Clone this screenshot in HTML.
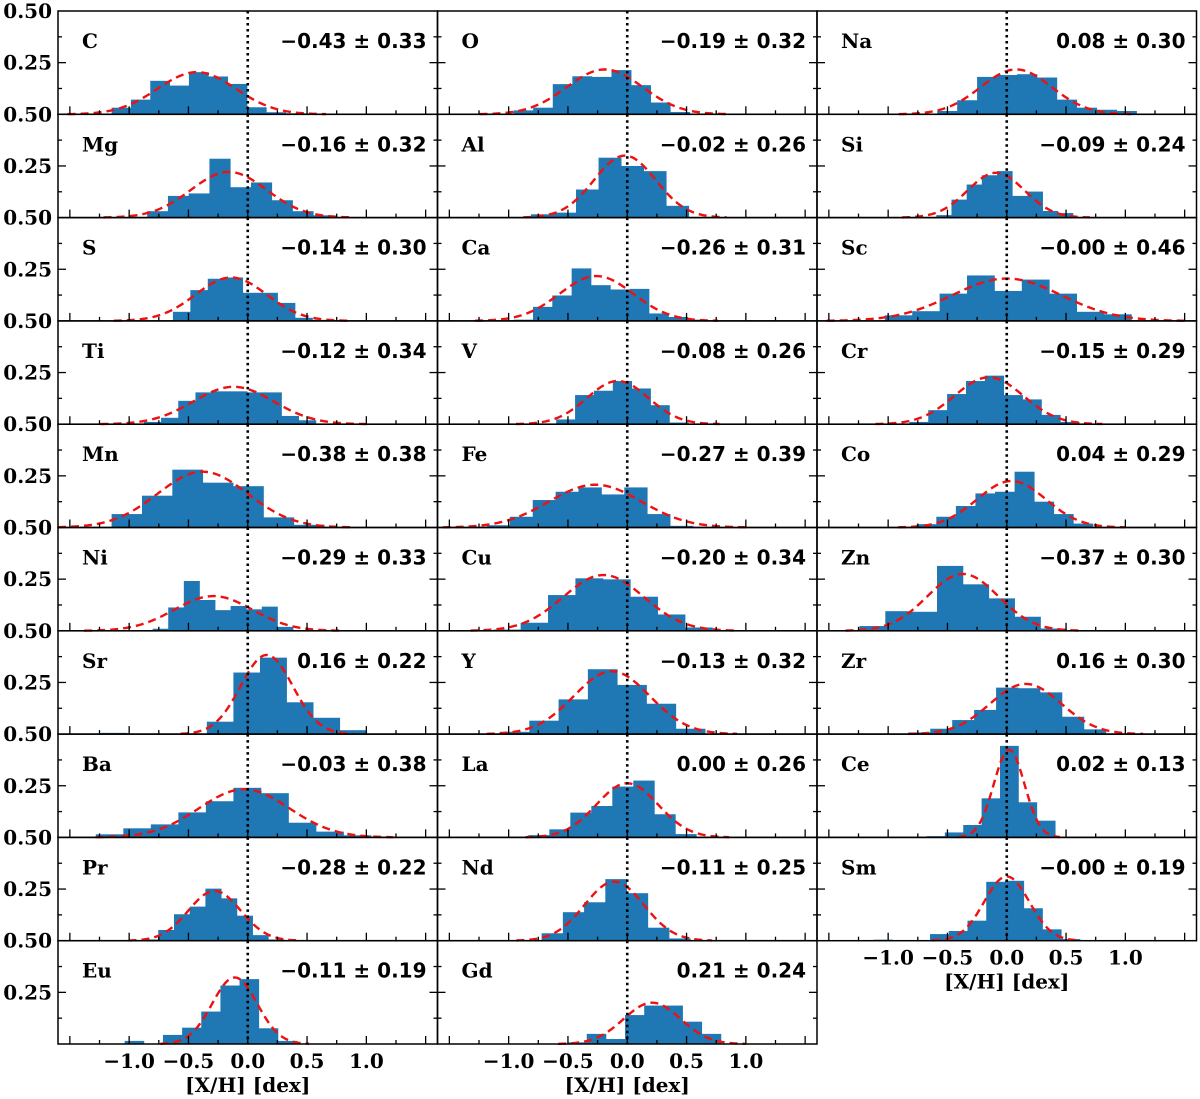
<!DOCTYPE html>
<html><head><meta charset="utf-8"><style>
html,body{margin:0;padding:0;background:#fff;}
svg{display:block;}
</style></head><body>
<svg id="fig" width="1200" height="1099" viewBox="0 0 1200 1099" xmlns="http://www.w3.org/2000/svg"></svg>
<script>
const elements = ["C","O","Na","Mg","Al","Si","S","Ca","Sc","Ti","V","Cr","Mn","Fe","Co","Ni","Cu","Zn","Sr","Y","Zr","Ba","La","Ce","Pr","Nd","Sm","Eu","Gd"];
const labelTexts = ["−0.43 ± 0.33","−0.19 ± 0.32","0.08 ± 0.30","−0.16 ± 0.32","−0.02 ± 0.26","−0.09 ± 0.24","−0.14 ± 0.30","−0.26 ± 0.31","−0.00 ± 0.46","−0.12 ± 0.34","−0.08 ± 0.26","−0.15 ± 0.29","−0.38 ± 0.38","−0.27 ± 0.39","0.04 ± 0.29","−0.29 ± 0.33","−0.20 ± 0.34","−0.37 ± 0.30","0.16 ± 0.22","−0.13 ± 0.32","0.16 ± 0.30","−0.03 ± 0.38","0.00 ± 0.26","0.02 ± 0.13","−0.28 ± 0.22","−0.11 ± 0.25","−0.00 ± 0.19","−0.11 ± 0.19","0.21 ± 0.24"];
const means = [-0.43,-0.19,0.08,-0.16,-0.02,-0.09,-0.14,-0.26,0.00,-0.12,-0.08,-0.15,-0.38,-0.27,0.04,-0.29,-0.20,-0.37,0.16,-0.13,0.16,-0.03,0.00,0.02,-0.28,-0.11,0.00,-0.11,0.21];
const sigmas = [0.33,0.32,0.30,0.32,0.26,0.24,0.30,0.31,0.46,0.34,0.26,0.29,0.38,0.39,0.29,0.33,0.34,0.30,0.22,0.32,0.30,0.38,0.26,0.13,0.22,0.25,0.19,0.19,0.24];
const amplitudes = [0.204,0.217,0.217,0.221,0.30,0.217,0.21,0.217,0.205,0.181,0.209,0.227,0.27,0.207,0.225,0.168,0.27,0.275,0.383,0.304,0.243,0.233,0.262,0.424,0.241,0.286,0.311,0.322,0.20];
const binStarts = [-1.148,-0.958,-0.586,-0.848,-0.812,-0.594,-0.631,-0.958,-1.028,-0.876,-0.599,-0.821,-1.148,-1.183,-0.759,-0.802,-1.13,-1.242,-1.241,-1.073,-0.83,-1.281,-0.834,-0.677,-0.887,-0.722,-1.121,-1.038,-0.503];
const binWidths = [0.163,0.165,0.168,0.175,0.19,0.128,0.147,0.163,0.231,0.145,0.159,0.159,0.256,0.193,0.165,0.1315,0.231,0.218,0.224,0.247,0.185,0.232,0.177,0.155,0.1325,0.179,0.158,0.1615,0.1615];
const counts = [
[0.032,0.071,0.162,0.139,0.204,0.183,0.147,0.034,0.01,0.005],
[0.019,0.032,0.146,0.184,0.181,0.214,0.141,0.057,0.011],
[0.016,0.068,0.181,0.19,0.194,0.178,0.071,0.032,0.022,0.016],
[0.031,0.105,0.117,0.285,0.147,0.17,0.084,0.031,0.011],
[0.016,0.024,0.136,0.29,0.25,0.225,0.057],
[0.012,0.087,0.16,0.205,0.225,0.105,0.126,0.032,0.022],
[0.044,0.149,0.204,0.21,0.136,0.136,0.087,0.015,0.005],
[0.006,0.068,0.123,0.254,0.173,0.152,0.155,0.036,0.019,0.006],
[0.027,0.047,0.132,0.22,0.145,0.2,0.132,0.044,0.032],
[0.011,0.031,0.113,0.154,0.159,0.159,0.154,0.154,0.04,0.019],
[0.023,0.141,0.162,0.209,0.173,0.092,0.008],
[0.011,0.068,0.146,0.209,0.235,0.141,0.12,0.045,0.011],
[0.065,0.154,0.28,0.217,0.2,0.049,0.013],
[0.011,0.052,0.133,0.173,0.194,0.16,0.194,0.065,0.008],
[0.016,0.052,0.104,0.165,0.173,0.27,0.125,0.065,0.019],
[0.01,0.113,0.241,0.149,0.1,0.12,0.104,0.117,0.019],
[0.006,0.039,0.173,0.254,0.249,0.165,0.079,0.016],
[0.023,0.095,0.092,0.314,0.225,0.157,0.068,0.011],
[0.006,0,0,0.003,0.06,0.298,0.37,0.154,0.079,0.019],
[0.011,0.065,0.168,0.314,0.238,0.147,0.026],
[0.008,0.026,0.068,0.117,0.225,0.222,0.202,0.084,0.023],
[0.015,0.044,0.063,0.121,0.175,0.24,0.214,0.071,0.028,0.01],
[0.011,0.039,0.12,0.152,0.246,0.275,0.112,0.016],
[0.006,0.024,0.06,0.189,0.443,0.17,0.081],
[0.006,0.052,0.128,0.165,0.252,0.205,0.121,0.027,0.006],
[0.036,0.138,0.186,0.298,0.23,0.063,0.011],
[0.005,0,0,0.032,0.047,0.097,0.285,0.29,0.157,0.055,0.008],
[0.015,0,0.044,0.079,0.157,0.283,0.314,0.076,0.015],
[0.008,0.049,0.024,0.14,0.186,0.186,0.108,0.049]
];
const xTickValues = [-1.0,-0.5,0.0,0.5,1.0];
const xTickLabels = ["−1.0","−0.5","0.0","0.5","1.0"];
const yTickValues = [0.25,0.5];
const yTickLabels = ["0.25","0.50"];

const NS = "http://www.w3.org/2000/svg";
const svg = document.getElementById("fig");
const colLeft = [58, 437.5, 817];
const PW = 379.5, PH = 103.3, TOP = 11;
const XMIN = -1.6, XMAX = 1.6, YMAX = 0.5;
function mk(tag, attrs, parent) {
  const e = document.createElementNS(NS, tag);
  for (const k in attrs) e.setAttribute(k, attrs[k]);
  (parent || svg).appendChild(e);
  return e;
}
const serif = "'DejaVu Serif','Liberation Serif',serif";
const sans = "'DejaVu Sans','Liberation Sans',sans-serif";

elements.forEach((name, i) => {
  const row = Math.floor(i / 3), col = i % 3;
  const x0 = colLeft[col], y0 = TOP + row * PH;
  const sx = v => x0 + (v - XMIN) / (XMAX - XMIN) * PW;
  const sy = v => y0 + PH - v / YMAX * PH;
  const g = mk("g", {});
  
  
  counts[i].forEach((h, b) => {
    if (h <= 0) return;
    const a = binStarts[i] + b * binWidths[i];
    const r = mk("rect", {x: sx(a), y: sy(h), width: sx(a + binWidths[i]) - sx(a) + 0.4, height: sy(0) - sy(h), fill: "#1f77b4"}, g);
    
    
  });
  const mu = means[i], s = sigmas[i], A = amplitudes[i];
  let d = "";
  const lo = Math.max(XMIN, mu - 3.3 * s), hi = Math.min(XMAX, mu + 3.3 * s);
  for (let k = 0; k <= 200; k++) {
    const xv = lo + (hi - lo) * k / 200;
    const yv = A * Math.exp(-((xv - mu) ** 2) / (2 * s * s));
    d += (k ? "L" : "M") + sx(xv).toFixed(2) + "," + sy(yv).toFixed(2);
  }
  const c = mk("path", {d: d, fill: "none", stroke: "#ee1111", "stroke-width": 2.4, "stroke-dasharray": "8,5"}, g);
  
  
  const z = mk("line", {x1: sx(0), x2: sx(0), y1: y0, y2: y0 + PH, stroke: "#000", "stroke-width": 2.6, "stroke-dasharray": "2.5,3.5"}, g);
  
  
  for (let t = -6; t <= 6; t++) {
    const v = t * 0.25, major = (t % 2 === 0);
    mk("line", {x1: sx(v), x2: sx(v), y1: y0 + PH, y2: y0 + PH - (major ? 8 : 4), stroke: "#000", "stroke-width": 1.3}, g);
  }
  for (let t = 1; t <= 3; t++) {
    const v = t * 0.125, major = (t % 2 === 0);
    const L = major ? 8 : 4;
    mk("line", {x1: x0, x2: x0 + L, y1: sy(v), y2: sy(v), stroke: "#000", "stroke-width": 1.3}, g);
    mk("line", {x1: x0 + PW, x2: x0 + PW - L, y1: sy(v), y2: sy(v), stroke: "#000", "stroke-width": 1.3}, g);
  }
  const f = mk("rect", {x: x0, y: y0, width: PW, height: PH, fill: "none", stroke: "#000", "stroke-width": 1.5}, g);
  
  
  const t1 = mk("text", {x: x0 + 24, y: y0 + 37, "font-family": serif, "font-weight": "bold", "font-size": 20, fill: "#000"}, g);
  t1.textContent = name;
  
  
  const t2 = mk("text", {x: x0 + PW - 11, y: y0 + 37, "text-anchor": "end", "font-family": sans, "font-weight": "bold", "font-size": 20, fill: "#000"}, g);
  t2.textContent = labelTexts[i];
  
  
  if (col === 0) {
    yTickValues.forEach((v, k) => {
      const yl = mk("text", {x: 52, y: sy(v) + 7, "text-anchor": "end", "font-family": serif, "font-weight": "bold", "font-size": 20, fill: "#000"}, g);
      yl.textContent = yTickLabels[k];
      
      
    });
  }
  const isBottom = (col < 2 && row === 9) || (col === 2 && row === 8);
  if (isBottom) {
    xTickValues.forEach((v, k) => {
      const xl = mk("text", {x: sx(v), y: y0 + PH + 24, "text-anchor": "middle", "font-family": serif, "font-weight": "bold", "font-size": 20, fill: "#000"}, g);
      xl.textContent = xTickLabels[k];
      
      
    });
    const xt = mk("text", {x: sx(0), y: y0 + PH + 48, "text-anchor": "middle", "font-family": serif, "font-weight": "bold", "font-size": 20, fill: "#000"}, g);
    xt.textContent = "[X/H] [dex]";
    
    
  }
});
</script>
</body></html>
